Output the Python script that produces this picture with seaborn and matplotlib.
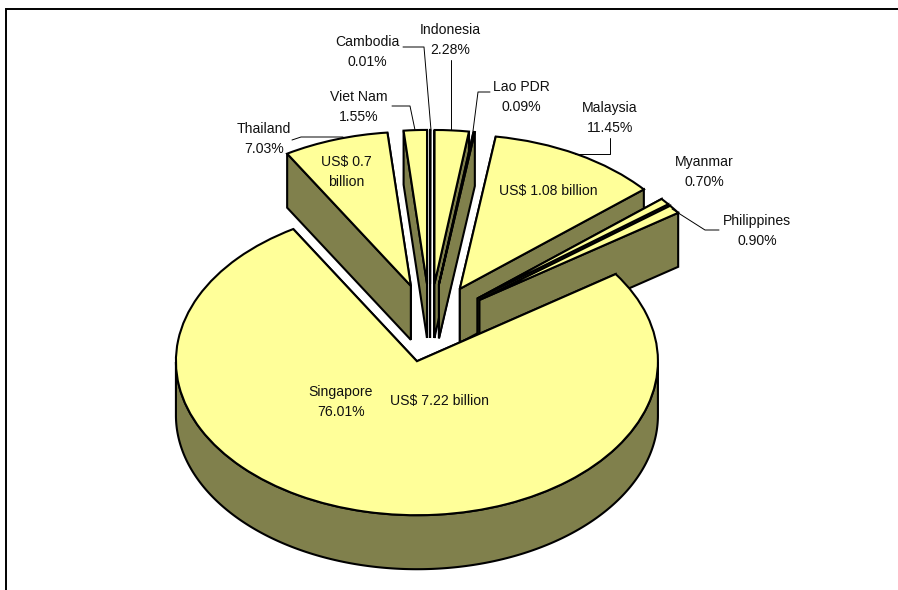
import numpy as np
import matplotlib
matplotlib.use("Agg")
import matplotlib.pyplot as plt
import seaborn as sns

countries = ["Cambodia", "Indonesia", "Lao PDR", "Malaysia", "Myanmar",
             "Philippines", "Singapore", "Thailand", "Viet Nam"]
shares = [0.01, 2.28, 0.09, 11.45, 0.70, 0.90, 76.01, 7.03, 1.55]
share_labels = ["0.01%", "2.28%", "0.09%", "11.45%", "0.70%", "0.90%", "76.01%", "7.03%", "1.55%"]
value_notes = {"Malaysia": "US$ 1.08 billion", "Singapore": "US$ 7.22 billion", "Thailand": "US$ 0.7\nbillion"}

sns.set_theme(style="white")
plt.rcParams["font.family"] = ["Liberation Sans", "DejaVu Sans"]

TOP = "#FFFF99"
SIDE = "#80804C"
W, H = 898, 590
CX, CY, RX, RY = 430, 323, 241, 154
EXPLODE = 0.254
DEPTH = 54 / RY
LW = 1.5
FS = 10.1
SPACING = 1.48

fig = plt.figure(figsize=(W / 100, H / 100), dpi=100, facecolor="white")
ax = fig.add_axes([0, 0, 1, 1])
wedges, _ = ax.pie(shares, explode=[EXPLODE] * len(shares), startangle=90, counterclock=False,
                   colors=[TOP] * len(shares),
                   wedgeprops=dict(edgecolor="black", linewidth=LW, joinstyle="miter"))
ax.set_aspect("auto")
ax.set_xlim(-CX / RX, (W - CX) / RX)
ax.set_ylim((CY - H) / RY, CY / RY)

order = sorted(range(len(wedges)), key=lambda i: -wedges[i].center[1])
for rank, i in enumerate(order):
    w = wedges[i]
    cx, cy = w.center
    base = 2 + rank * 3
    w.set_zorder(base + 2)
    faces = []
    for th in (w.theta1, w.theta2):
        px = cx + w.r * np.cos(np.radians(th))
        py = cy + w.r * np.sin(np.radians(th))
        faces.append(([cx, px, px, cx], [cy, py, py - DEPTH, cy - DEPTH]))
    faces.sort(key=lambda f: -np.mean(f[1]))
    for fx, fy in faces:
        ax.fill(fx, fy, facecolor=SIDE, edgecolor="black", linewidth=LW, zorder=base, joinstyle="miter")
    th = np.radians(np.linspace(w.theta1, w.theta2, 600))
    th = th[np.sin(th) < 0]
    if len(th) > 1:
        ax_, ay_ = cx + w.r * np.cos(th), cy + w.r * np.sin(th)
        ax.fill(np.r_[ax_, ax_[::-1]], np.r_[ay_, ay_[::-1] - DEPTH], facecolor=SIDE,
                edgecolor="black", linewidth=LW, zorder=base + 1)

ov = fig.add_axes([0, 0, 1, 1], facecolor="none")
ov.set_xlim(0, W)
ov.set_ylim(H, 0)
ov.axis("off")

ov.plot([5.5, 5.5, W], [H, 8.5, 8.5], color="black", lw=1.4, solid_joinstyle="miter")

label_pos = {"Cambodia": (367, 52), "Indonesia": (450, 40), "Lao PDR": (521, 97), "Malaysia": (610, 118),
             "Myanmar": (704, 172), "Philippines": (757, 231), "Thailand": (264, 139),
             "Viet Nam": (359, 107), "Singapore": (341, 402)}
for name, lab in zip(countries, share_labels):
    x, y = label_pos[name]
    ov.text(x, y, f"{name}\n{lab}", ha="center", va="center", fontsize=FS, color="#111111", linespacing=SPACING)

note_pos = {"Malaysia": (548, 191), "Singapore": (440, 401), "Thailand": (346, 172)}
for name, txt in value_notes.items():
    x, y = note_pos[name]
    ov.text(x, y, txt, ha="center", va="center", fontsize=FS, color="#111111", linespacing=SPACING)

leaders = [([292, 301, 343], [140, 137, 137]),
           ([392, 410, 415], [106, 106, 130]),
           ([403, 424, 431], [47, 47, 130]),
           ([451, 451], [60, 130]),
           ([490, 478, 473], [92, 92, 131]),
           ([610, 610, 575], [138, 154, 154]),
           ([719, 705, 672], [230, 230, 209])]
for lx, ly in leaders:
    ov.plot(lx, ly, color="black", lw=0.7)

fig.savefig("out.png", dpi=100)
